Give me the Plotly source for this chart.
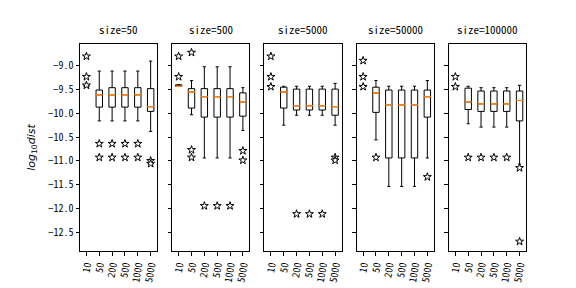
import plotly.graph_objects as go
from plotly.subplots import make_subplots

CATEGORIES = ["10", "50", "200", "500", "1000", "5000"]
PANEL_TITLES = ["size=50", "size=500", "size=5000", "size=50000", "size=100000"]

Q1 = [
    [-9.43, -9.87, -9.87, -9.87, -9.87, -9.96],
    [-9.43, -9.89, -10.08, -10.08, -10.08, -10.06],
    [-9.43, -9.89, -9.93, -9.93, -9.93, -10.04],
    [-9.43, -9.98, -10.94, -10.94, -10.94, -10.08],
    [-9.43, -9.92, -9.96, -9.96, -9.96, -10.16],
]
MEDIAN = [
    [-9.43, -9.61, -9.61, -9.61, -9.61, -9.86],
    [-9.43, -9.55, -9.65, -9.65, -9.65, -9.76],
    [-9.43, -9.55, -9.84, -9.84, -9.84, -9.86],
    [-9.43, -9.57, -9.82, -9.82, -9.82, -9.65],
    [-9.43, -9.76, -9.80, -9.80, -9.80, -9.73],
]
Q3 = [
    [-9.43, -9.51, -9.46, -9.46, -9.46, -9.48],
    [-9.40, -9.48, -9.48, -9.48, -9.48, -9.57],
    [-9.43, -9.45, -9.49, -9.49, -9.49, -9.49],
    [-9.43, -9.45, -9.51, -9.51, -9.51, -9.51],
    [-9.43, -9.47, -9.53, -9.53, -9.53, -9.53],
]
UPPER = [
    [-9.43, -9.11, -9.11, -9.11, -9.11, -8.90],
    [-9.40, -9.31, -9.02, -9.02, -9.02, -9.46],
    [-9.43, -9.43, -9.43, -9.43, -9.43, -9.37],
    [-9.43, -9.31, -9.43, -9.43, -9.43, -9.31],
    [-9.43, -9.43, -9.46, -9.46, -9.46, -9.41],
]
LOWER = [
    [-9.43, -10.16, -10.16, -10.16, -10.16, -10.38],
    [-9.43, -10.03, -10.94, -10.94, -10.94, -10.36],
    [-9.43, -10.25, -10.04, -10.04, -10.04, -10.25],
    [-9.43, -10.56, -11.54, -11.54, -11.54, -10.94],
    [-9.43, -10.22, -10.29, -10.29, -10.29, -11.07],
]
OUTLIER_X = [
    ["10", "10", "10", "50", "50", "200", "200", "500", "500", "1000", "1000", "5000", "5000"],
    ["10", "10", "50", "50", "50", "200", "500", "1000", "5000", "5000"],
    ["10", "10", "10", "200", "500", "1000", "5000", "5000"],
    ["10", "10", "10", "50", "5000"],
    ["10", "10", "50", "200", "500", "1000", "5000", "5000"],
]
OUTLIER_Y = [
    [-8.80, -9.23, -9.41, -10.64, -10.93, -10.64, -10.93, -10.64, -10.93, -10.64, -10.93, -11.00, -11.06],
    [-8.80, -9.23, -8.72, -10.77, -10.93, -11.95, -11.95, -11.95, -10.79, -10.99],
    [-8.80, -9.23, -9.44, -12.12, -12.12, -12.12, -10.93, -10.99],
    [-8.89, -9.23, -9.44, -10.93, -11.34],
    [-9.23, -9.44, -10.93, -10.93, -10.93, -10.93, -11.15, -12.70],
]
YTICKS = [-9.0, -9.5, -10.0, -10.5, -11.0, -11.5, -12.0, -12.5]
YRANGE = [-12.9, -8.54]

FONT = "Noto Sans Mono CJK SC, Liberation Mono, monospace"

fig = make_subplots(rows=1, cols=5, shared_yaxes=True, horizontal_spacing=0.034,
                    subplot_titles=PANEL_TITLES)

for i in range(5):
    col = i + 1
    fig.add_trace(go.Box(
        x=CATEGORIES, q1=Q1[i], median=MEDIAN[i], q3=Q3[i],
        lowerfence=LOWER[i], upperfence=UPPER[i],
        width=0.5, whiskerwidth=0.5, boxpoints=False,
        line=dict(color="black", width=1), fillcolor="rgba(0,0,0,0)",
        hoverinfo="skip", showlegend=False,
    ), row=1, col=col)
    fig.add_trace(go.Box(
        x=CATEGORIES, q1=MEDIAN[i], median=MEDIAN[i], q3=MEDIAN[i],
        lowerfence=MEDIAN[i], upperfence=MEDIAN[i],
        width=0.5, whiskerwidth=0, boxpoints=False,
        line=dict(color="#ff7f0e", width=1), fillcolor="rgba(0,0,0,0)",
        hoverinfo="skip", showlegend=False,
    ), row=1, col=col)
    fig.add_trace(go.Scatter(
        x=OUTLIER_X[i], y=OUTLIER_Y[i], mode="markers",
        marker=dict(symbol="star", size=6, color="white",
                    line=dict(color="black", width=1)),
        hoverinfo="skip", showlegend=False,
    ), row=1, col=col)
    fig.update_xaxes(
        type="category", categoryorder="array", categoryarray=CATEGORIES,
        range=[-0.5, 5.5], tickangle=-80, ticks="outside", ticklen=3.5,
        tickcolor="black", showline=True, linecolor="black", linewidth=1,
        mirror=True, showgrid=False, zeroline=False,
        tickfont=dict(family=FONT, size=10, color="black"),
        row=1, col=col)
    fig.update_yaxes(
        range=YRANGE, tickvals=YTICKS,
        ticktext=[("%.1f" % v).replace("-", "\u2212") for v in YTICKS],
        ticks="outside", ticklen=3.5, tickcolor="black",
        showline=True, linecolor="black", linewidth=1, mirror=True,
        showgrid=False, zeroline=False,
        tickfont=dict(family=FONT, size=10, color="black"),
        row=1, col=col)

fig.update_yaxes(title_text="<i>log</i><sub>10</sub><i>dist</i>",
                 title_font=dict(family="DejaVu Sans", size=11, color="black"),
                 title_standoff=10, row=1, col=1)

for ann in fig.layout.annotations:
    ann.font = dict(family=FONT, size=11, color="black")
    ann.yshift = 5

fig.update_layout(
    width=576, height=288,
    margin=dict(l=72, r=58, t=36, b=36),
    plot_bgcolor="white", paper_bgcolor="white",
    boxmode="overlay", showlegend=False,
)

fig.write_html("out.html")
